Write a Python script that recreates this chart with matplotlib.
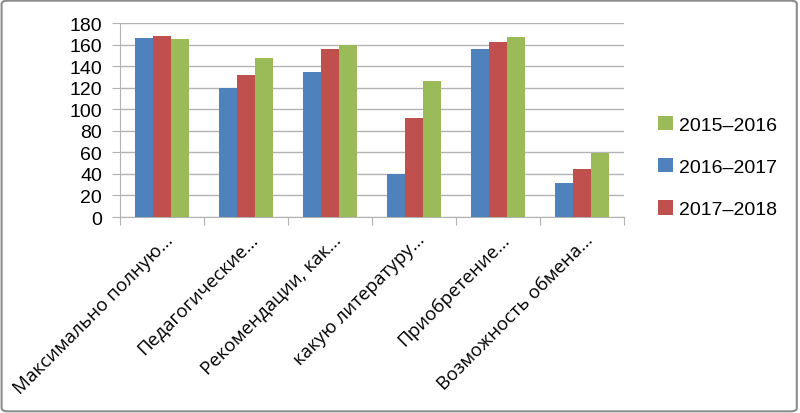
"""Grouped bar chart: survey answers by academic year (2015–2018).

Three academic years compared across six answer options; the figure
is saved to ``out.png``.
"""

import matplotlib

matplotlib.use("Agg")

import matplotlib.pyplot as plt
import numpy as np
from matplotlib.patches import FancyBboxPatch

CATEGORIES = [
    "Максимально полную...",
    "Педагогические...",
    "Рекомендации, как...",
    "какую литературу...",
    "Приобретение...",
    "Возможность обмена...",
]
SERIES_NAMES = ["2016–2017", "2017–2018", "2015–2016"]
VALUES_2016_2017 = [166, 120, 135, 40, 156, 32]
VALUES_2017_2018 = [168, 132, 156, 92, 162, 45]
VALUES_2015_2016 = [165, 148, 160, 126, 167, 59]
Y_TICKS = [0, 20, 40, 60, 80, 100, 120, 140, 160, 180]

COLORS = {"2016–2017": "#4F81BD", "2017–2018": "#C0504D", "2015–2016": "#9BBB59"}
LEGEND_ORDER = ["2015–2016", "2016–2017", "2017–2018"]
GRID_COLOR = "#B3B3B3"


def main() -> None:
    plt.rcParams["font.family"] = ["Liberation Sans", "DejaVu Sans"]
    fig = plt.figure(figsize=(8.0, 4.14), dpi=100)
    ax = fig.add_axes([0.15, 0.4734, 0.63, 0.4686])

    series = [VALUES_2016_2017, VALUES_2017_2018, VALUES_2015_2016]
    x = np.arange(len(CATEGORIES))
    width = 0.214
    handles = {}
    for i, (name, vals) in enumerate(zip(SERIES_NAMES, series)):
        bars = ax.bar(x + (i - 1) * width, vals, width, color=COLORS[name],
                      label=name, zorder=3)
        handles[name] = bars

    ax.set_xlim(-0.5, len(CATEGORIES) - 0.5)
    ax.set_ylim(0, 180)
    ax.set_yticks(Y_TICKS)
    ax.tick_params(axis="y", labelsize=14, length=6, color=GRID_COLOR, pad=7)
    ax.yaxis.grid(True, color=GRID_COLOR, linewidth=1.0, zorder=0)

    # category boundaries carry the tick marks, labels sit at centres
    ax.set_xticks(np.arange(len(CATEGORIES) + 1) - 0.5)
    ax.set_xticklabels([])
    ax.tick_params(axis="x", length=6, color=GRID_COLOR)
    for xi, label in zip(x, CATEGORIES):
        ax.annotate(label, xy=(xi, 0), xycoords=("data", "axes fraction"),
                    xytext=(6, -14), textcoords="offset points",
                    rotation=45, ha="right", va="center",
                    rotation_mode="anchor", fontsize=13.5,
                    family=["Open Sans", "DejaVu Sans"])

    for side in ("top", "right"):
        ax.spines[side].set_visible(False)
    for side in ("left", "bottom"):
        ax.spines[side].set_color(GRID_COLOR)

    fig.legend([handles[n] for n in LEGEND_ORDER], LEGEND_ORDER,
               loc="center left", bbox_to_anchor=(0.801, 0.594),
               frameon=False, fontsize=14, handlelength=0.75,
               handleheight=0.75, handletextpad=0.3, labelspacing=1.25)

    border = FancyBboxPatch((0.002, 0.004), 0.994, 0.992,
                            boxstyle="round,pad=0,rounding_size=0.008",
                            transform=fig.transFigure, fill=False,
                            edgecolor="#8C8C8C", linewidth=1.5)
    fig.patches.append(border)

    fig.savefig("out.png", dpi=100)
    plt.close(fig)


if __name__ == "__main__":
    main()
